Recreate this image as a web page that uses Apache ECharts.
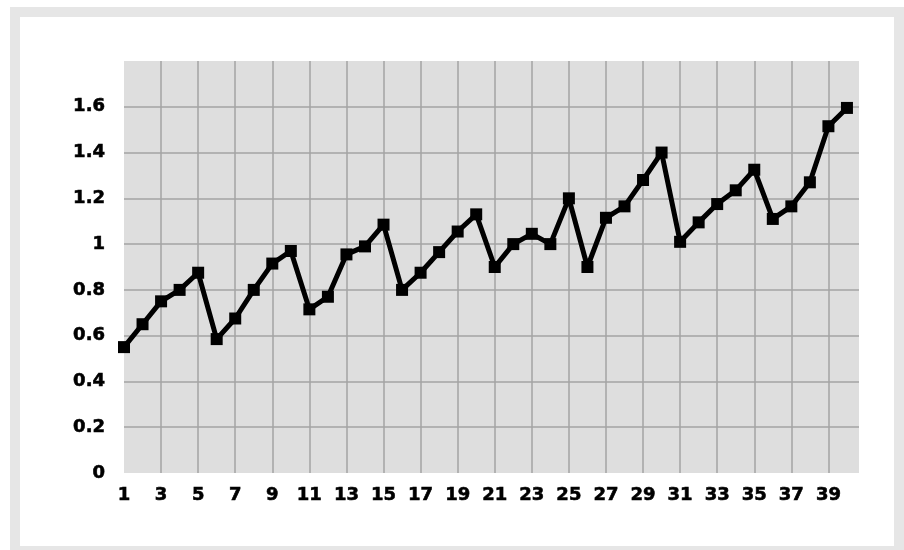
<!DOCTYPE html>
<html>
<head>
<meta charset="utf-8">
<script src="https://cdn.jsdelivr.net/npm/echarts@6/dist/echarts.min.js"></script>
<style>
  html, body { margin: 0; padding: 0; width: 904px; height: 550px; overflow: hidden; background: #ffffff; }
  #frame { position: absolute; left: 10px; top: 7px; width: 894px; height: 549px;
           box-sizing: border-box; border: 10px solid #e6e6e6; background: #ffffff; }
  #chart { position: absolute; left: 0; top: 0; width: 904px; height: 550px; }
</style>
</head>
<body>
<div id="frame"></div>
<div id="chart"></div>
<script>
// Period numbers along the horizontal axis
const periods = [1,2,3,4,5,6,7,8,9,10,11,12,13,14,15,16,17,18,19,20,
                 21,22,23,24,25,26,27,28,29,30,31,32,33,34,35,36,37,38,39,40];
// Measured value for each period
const values = [0.55,0.65,0.75,0.80,0.875,0.585,0.675,0.80,0.915,0.97,
                0.715,0.77,0.955,0.99,1.085,0.80,0.875,0.965,1.055,1.13,
                0.90,1.00,1.045,1.00,1.20,0.90,1.115,1.165,1.28,1.40,
                1.01,1.095,1.175,1.235,1.325,1.11,1.165,1.27,1.515,1.595];
// Value-axis ticks
const yTicks = [0,0.2,0.4,0.6,0.8,1,1.2,1.4,1.6];

// Heavy black tick labels (a thin outline thickens the bold face)
const labelFont = { fontFamily: 'DejaVu Sans', fontWeight: 'bold', fontSize: 18, color: '#000000',
                    textBorderColor: '#000000', textBorderWidth: 0.6 };

// x positions are offsets from the first period, so odd periods fall on even ticks
const points = periods.map((p, i) => [p - periods[0], values[i]]);

const chart = echarts.init(document.getElementById('chart'), null, { renderer: 'canvas' });
chart.setOption({
  animation: false,
  backgroundColor: 'transparent',
  grid: { left: 124, right: 45, top: 61, bottom: 77, show: true,
          backgroundColor: '#dedede', borderWidth: 0 },
  xAxis: {
    type: 'value', min: 0, max: 39.65, interval: 2,
    axisLine: { show: false }, axisTick: { show: false },
    splitLine: { show: true, showMinLine: false, showMaxLine: false,
                 lineStyle: { color: '#a3a3a3', width: 1.5 } },
    axisLabel: Object.assign({}, labelFont, {
      margin: 13, showMaxLabel: false,
      formatter: v => Number.isInteger(v) ? String(v + periods[0]) : ''
    })
  },
  yAxis: {
    type: 'value', min: 0, max: 1.8, interval: 0.2,
    axisLine: { show: false }, axisTick: { show: false },
    splitLine: { show: true, showMinLine: false, showMaxLine: false,
                 lineStyle: { color: '#a3a3a3', width: 1.5 } },
    axisLabel: Object.assign({}, labelFont, {
      margin: 19, showMaxLabel: false,
      formatter: v => {
        const t = yTicks.find(k => Math.abs(k - v) < 1e-9);
        return t === undefined ? '' : String(t);
      }
    })
  },
  series: [{
    type: 'line',
    data: points,
    symbol: 'rect',
    symbolSize: 12,
    itemStyle: { color: '#000000' },
    lineStyle: { color: '#000000', width: 5 },
    z: 3
  }]
});
</script>
</body>
</html>
